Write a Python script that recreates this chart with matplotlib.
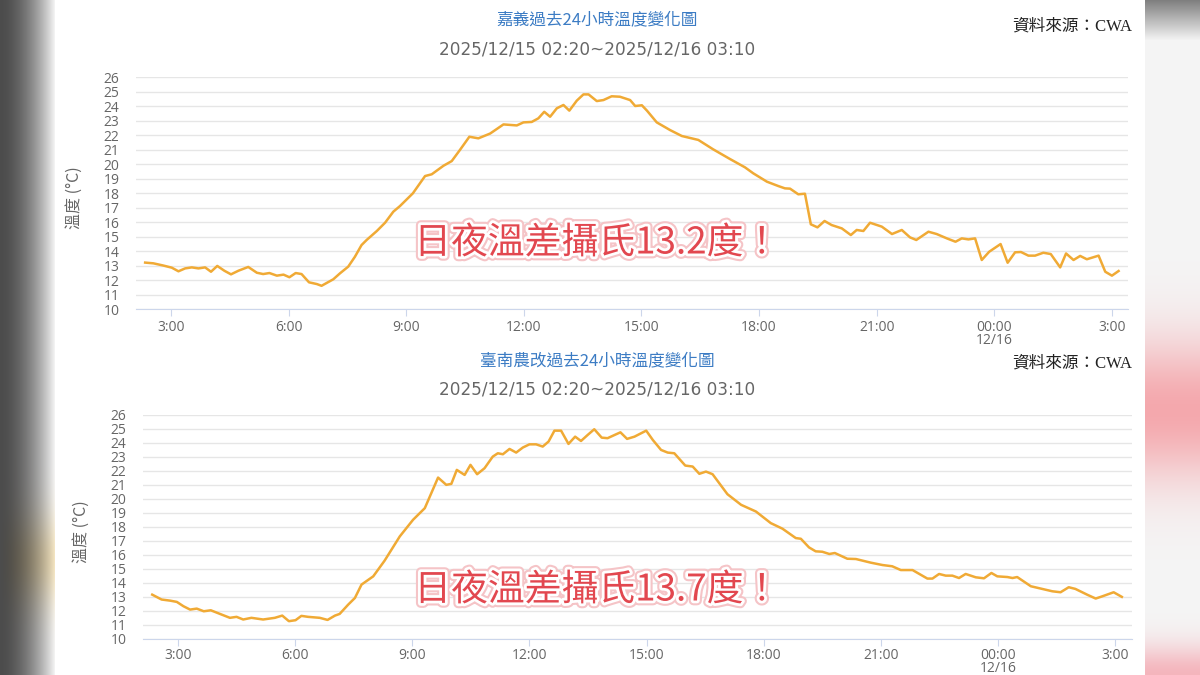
import matplotlib
matplotlib.use("Agg")
import matplotlib.pyplot as plt
import matplotlib.patheffects as pe
import numpy as np

plt.rcParams['font.family'] = ['Noto Sans CJK TC', 'DejaVu Sans']

# hours since 2025/12/15 00:00, temperature in °C
t_chiayi = [2.34, 2.55, 2.80, 3.02, 3.19, 3.36, 3.53, 3.70, 3.87, 4.02, 4.18, 4.36, 4.53, 4.72,
            4.97, 5.19, 5.35, 5.51, 5.70, 5.87, 6.02, 6.18, 6.33, 6.52, 6.72, 6.84, 7.14, 7.31,
            7.52, 7.69, 7.86, 7.99, 8.25, 8.46, 8.67, 8.84, 9.17, 9.48, 9.65, 9.95, 10.16, 10.37,
            10.61, 10.84, 11.14, 11.48, 11.82, 11.99, 12.20, 12.37, 12.52, 12.67, 12.84, 13.01,
            13.16, 13.35, 13.52, 13.65, 13.86, 14.03, 14.24, 14.45, 14.71, 14.84, 15.01, 15.14,
            15.39, 15.73, 16.03, 16.45, 16.83, 17.26, 17.64, 17.85, 18.20, 18.49, 18.66, 18.79,
            19.00, 19.17, 19.32, 19.49, 19.67, 19.85, 20.11, 20.34, 20.49, 20.66, 20.83, 21.13,
            21.39, 21.64, 21.85, 22.01, 22.32, 22.53, 22.79, 23.01, 23.17, 23.34, 23.51, 23.68,
            23.87, 24.16, 24.34, 24.53, 24.68, 24.87, 25.04, 25.25, 25.44, 25.68, 25.83, 26.02,
            26.19, 26.36, 26.66, 26.83, 27.00, 27.17]
temp_chiayi = [13.2, 13.15, 13.0, 12.85, 12.6, 12.8, 12.87, 12.8, 12.87, 12.57, 12.97, 12.64, 12.39, 12.64,
               12.9, 12.5, 12.41, 12.48, 12.3, 12.37, 12.19, 12.48, 12.41, 11.84, 11.72, 11.6, 12.05, 12.46,
               12.92, 13.6, 14.41, 14.76, 15.38, 15.95, 16.71, 17.1, 17.98, 19.17, 19.29, 19.88, 20.2, 20.97,
               21.88, 21.77, 22.1, 22.73, 22.66, 22.87, 22.9, 23.15, 23.6, 23.26, 23.84, 24.07,
               23.68, 24.37, 24.8, 24.8, 24.34, 24.41, 24.67, 24.64, 24.41, 24.0, 24.05, 23.68,
               22.87, 22.34, 21.93, 21.66, 21.01, 20.34, 19.77, 19.36, 18.78, 18.48, 18.32, 18.3,
               17.91, 17.95, 15.84, 15.63, 16.07, 15.79, 15.56, 15.1, 15.45, 15.38, 15.95, 15.68,
               15.17, 15.45, 14.94, 14.76, 15.33, 15.17, 14.87, 14.64, 14.87, 14.8, 14.87, 13.38,
               13.95, 14.48, 13.19, 13.91, 13.93, 13.68, 13.68, 13.88, 13.79, 12.87, 13.83, 13.38,
               13.66, 13.43, 13.68, 12.57, 12.3, 12.62]

t_tainan = [2.34, 2.58, 2.80, 2.97, 3.14, 3.31, 3.48, 3.66, 3.84, 4.12, 4.33, 4.50, 4.67, 4.88,
            5.18, 5.48, 5.67, 5.84, 6.01, 6.16, 6.33, 6.63, 6.83, 7.02, 7.14, 7.36, 7.53, 7.70,
            8.00, 8.29, 8.68, 9.02, 9.32, 9.66, 9.87, 10.00, 10.14, 10.34, 10.49, 10.66, 10.85,
            11.06, 11.19, 11.32, 11.49, 11.66, 11.83, 12.00, 12.17, 12.34, 12.49, 12.64, 12.81,
            13.00, 13.17, 13.32, 13.49, 13.66, 13.85, 14.00, 14.18, 14.33, 14.50, 14.69, 14.99,
            15.16, 15.37, 15.54, 15.71, 15.99, 16.18, 16.35, 16.52, 16.69, 17.07, 17.42, 17.80,
            18.18, 18.48, 18.82, 18.95, 19.16, 19.33, 19.50, 19.68, 19.82, 20.14, 20.36, 20.74,
            21.04, 21.29, 21.51, 21.81, 22.19, 22.32, 22.49, 22.66, 22.83, 23.00, 23.17, 23.43,
            23.64, 23.83, 23.98, 24.24, 24.37, 24.49, 24.84, 25.13, 25.39, 25.60, 25.81, 25.98,
            26.28, 26.50, 26.67, 26.96, 27.17]
temp_tainan = [13.14, 12.79, 12.71, 12.62, 12.31, 12.07, 12.14, 11.95, 12.02, 11.71, 11.48, 11.55, 11.36, 11.48,
               11.36, 11.48, 11.64, 11.24, 11.31, 11.62, 11.55, 11.48, 11.33, 11.64, 11.76, 12.43, 12.9, 13.86,
               14.45, 15.57, 17.31, 18.5, 19.33, 21.52, 21.0, 21.07, 22.07, 21.71, 22.43, 21.76, 22.19,
               23.02, 23.26, 23.19, 23.57, 23.31, 23.67, 23.9, 23.9, 23.74, 24.1, 24.88, 24.88,
               23.93, 24.45, 24.14, 24.57, 24.98, 24.38, 24.34, 24.57, 24.76, 24.29, 24.45, 24.88,
               24.21, 23.5, 23.31, 23.26, 22.38, 22.31, 21.79, 21.95, 21.76, 20.33, 19.57, 19.09,
               18.26, 17.86, 17.19, 17.14, 16.52, 16.24, 16.21, 16.05, 16.12, 15.71, 15.69, 15.43,
               15.26, 15.17, 14.9, 14.9, 14.29, 14.29, 14.62, 14.5, 14.5, 14.33, 14.62, 14.38,
               14.31, 14.69, 14.45, 14.4, 14.33, 14.4, 13.74, 13.55, 13.38, 13.31, 13.67, 13.55,
               13.14, 12.86, 13.02, 13.31, 12.98]

x_ticks = [3, 6, 9, 12, 15, 18, 21, 24, 27]
x_labels = ["3:00", "6:00", "9:00", "12:00", "15:00", "18:00", "21:00", "00:00\n12/16", "3:00"]
y_ticks = list(range(10, 27))

titles = ["嘉義過去24小時溫度變化圖", "臺南農改過去24小時溫度變化圖"]
subtitle = "2025/12/15 02:20~2025/12/16 03:10"
notes = ["日夜溫差攝氏13.2度！", "日夜溫差攝氏13.7度！"]

W, H = 1200, 675
fig = plt.figure(figsize=(12, 6.75), dpi=100, facecolor="white")

# blurred side strips of the screenshot
bg = fig.add_axes([0, 0, 1, 1], zorder=-5)
bg.set_xlim(0, W)
bg.set_ylim(H, 0)
bg.axis("off")
xs = np.linspace(0, 1, 55)
ys = np.arange(H)
left = np.zeros((H, 55, 3))
for c in range(3):
    left[:, :, c] = 0.30 + (0.95 - 0.30) * xs[None, :] ** 1.8
beige = np.exp(-((ys - 560) / 45.0) ** 2)[:, None] * xs[None, :]
left[:, :, 2] -= 0.20 * beige
left[:, :, 1] -= 0.06 * beige
bg.imshow(np.clip(left, 0, 1), extent=(0, 55, H, 0), aspect="auto")
right = np.ones((H, 55, 3)) * 0.96
top = np.clip(ys / 40.0, 0, 1)
for c in range(3):
    right[:, :, c] = 0.5 + (0.96 - 0.5) * top[:, None]
pink = np.exp(-((ys - 410) / 70.0) ** 2)
right[:, :, 1] -= 0.30 * pink[:, None]
right[:, :, 2] -= 0.28 * pink[:, None]
pink2 = np.exp(-((ys - 675) / 30.0) ** 2)
right[:, :, 1] -= 0.25 * pink2[:, None]
right[:, :, 2] -= 0.22 * pink2[:, None]
bg.imshow(np.clip(right, 0, 1), extent=(1145, 1200, H, 0), aspect="auto")

line_c = "#f0aa35"
grid_c = "#e6e6e6"
text_c = "#666666"

panels = [
    dict(t=t_chiayi, v=temp_chiayi, rect=[136 / W, 1 - 309 / H, 992 / W, 232 / H], xlim=(2.107, 27.41),
         title_y=20, sub_y=50, src_y=27, note_y=243, ylab_x=-0.054, xpad=3),
    dict(t=t_tainan, v=temp_tainan, rect=[143 / W, 1 - 638.5 / H, 989 / W, 223.5 / H], xlim=(2.104, 27.43),
         title_y=361, sub_y=389, src_y=364, note_y=590, ylab_x=-0.054, xpad=1.5),
]

for i, p in enumerate(panels):
    ax = fig.add_axes(p["rect"])
    ax.plot(p["t"], p["v"], color=line_c, lw=1.8, solid_joinstyle="round", zorder=3)
    ax.set_xlim(*p["xlim"])
    ax.set_ylim(10, 26)
    ax.set_yticks(y_ticks)
    ax.set_xticks(x_ticks)
    ax.set_xticklabels(x_labels, linespacing=0.85)
    for lab in ax.get_xticklabels() + ax.get_yticklabels():
        lab.set_family(["Open Sans", "DejaVu Sans"])
    ax.grid(axis="y", color=grid_c, lw=1)
    for s in ["top", "right", "left"]:
        ax.spines[s].set_visible(False)
    ax.spines["bottom"].set_color("#ccd6eb")
    ax.tick_params(axis="y", length=0, pad=12, labelsize=10, labelcolor=text_c)
    ax.tick_params(axis="x", length=5, color="#ccd6eb", pad=p["xpad"], labelsize=10, labelcolor=text_c)
    ax.set_ylabel("溫度 (°C)", color=text_c, fontsize=11.5)
    ax.yaxis.set_label_coords(p["ylab_x"], 0.48)

    fig.text(597 / W, 1 - p["title_y"] / H, titles[i], ha="center", va="center",
             color="#3c7cc4", fontsize=12)
    fig.text(597 / W, 1 - p["sub_y"] / H, subtitle, ha="center", va="center",
             color=text_c, fontsize=12.2, family=["DejaVu Sans"])
    fig.text(1132 / W, 1 - p["src_y"] / H, "資料來源：CWA", ha="right", va="center",
             color="#222222", fontsize=12, family=["Liberation Serif", "Noto Sans CJK TC"])
    fig.text(597 / W, 1 - p["note_y"] / H, notes[i], ha="center", va="center",
             color="#e2474f", fontsize=26.5, weight="medium", zorder=10,
             path_effects=[pe.Stroke(linewidth=7, foreground="#f5c4c7"),
                           pe.Stroke(linewidth=4, foreground="white"),
                           pe.Normal()])

fig.savefig("out.png", dpi=100, facecolor=fig.get_facecolor())
